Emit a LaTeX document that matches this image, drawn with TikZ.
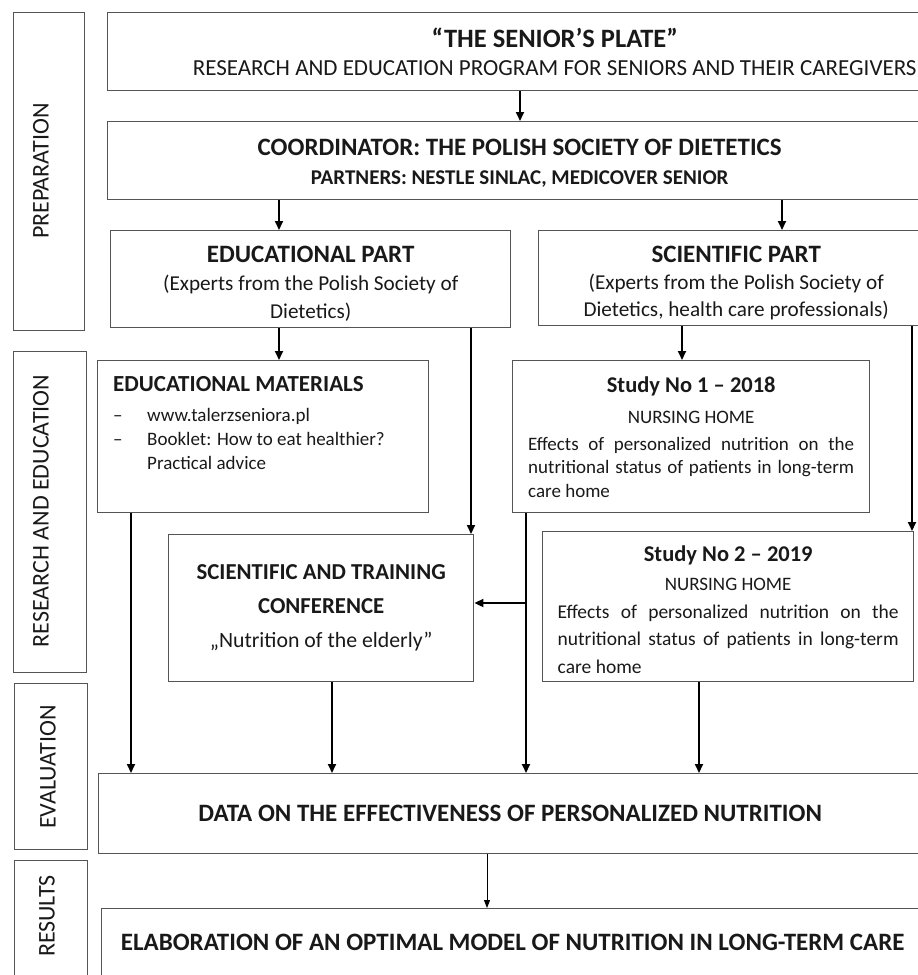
\documentclass[tikz,border=0pt]{standalone}
\usepackage{fontspec}
\setmainfont{Carlito}
\usetikzlibrary{arrows.meta}
\definecolor{PlateLine}{RGB}{85,85,85}
\definecolor{PlateText}{RGB}{25,25,25}
\newcommand{\plfs}[2]{\fontsize{#1}{#2}\selectfont}

\begin{document}
\begin{tikzpicture}[x=1pt,y=-1pt,
  box/.style={draw=PlateLine,line width=1.4pt,rectangle,inner sep=0pt,anchor=north west,align=center,text=PlateText},
  lane/.style={draw=PlateLine,line width=1.4pt,rectangle,inner sep=0pt,anchor=north west},
  lbl/.style={rotate=90,inner sep=0pt,text=PlateText,font=\plfs{24}{24}},
  arr/.style={draw=black,line width=1.8pt,-{Triangle[length=9pt,width=8pt]}},
  thinarr/.style={draw=black,line width=0.9pt,-{Triangle[length=8pt,width=6pt]}}]
\useasboundingbox (0,0) rectangle (918,975);
% phases on the left
\node[lane,minimum width=71,minimum height=318] (prep) at (13,12) {};
\node[lane,minimum width=73,minimum height=321] (resed) at (13,351) {};
\node[lane,minimum width=73,minimum height=166] (evalu) at (14,683) {};
\node[lane,minimum width=73,minimum height=130] (reslt) at (14,860) {};
\node[lbl] (prepT) at (41,171) {PREPARATION};
\node[lbl] (resedT) at (41,511) {RESEARCH AND EDUCATION};
\node[lbl] (evaluT) at (48,767) {EVALUATION};
\node[lbl] (resltT) at (47,916) {RESULTS};
% programme and coordinator (cut by the right edge)
\node[box,minimum width=894,minimum height=78,font=\plfs{23}{28}] (plate) at (107,12)
  {{\bfseries\plfs{26.5}{28}“THE SENIOR’S PLATE”}\\RESEARCH AND EDUCATION PROGRAM FOR SENIORS AND THEIR CAREGIVERS};
\node[box,minimum width=824,minimum height=78,text width=700,align=flush center,font=\bfseries\plfs{21}{29}] (coord) at (107,121)
  {{\plfs{25}{29}COORDINATOR: THE POLISH SOCIETY OF DIETETICS\par}
   PARTNERS: NESTLE SINLAC, MEDICOVER SENIOR\par\vspace*{-6pt}};
% the two parts
\node[box,minimum width=400,minimum height=97,text width=380,align=flush center,font=\plfs{21.2}{28}] (edu) at (110,230)
  {{\bfseries\plfs{25}{28}EDUCATIONAL PART\par}
   (Experts from the Polish Society of\\Dietetics)\par\vspace*{-10pt}};
\node[box,minimum width=395,minimum height=95,text width=380,align=flush center,font=\plfs{21.2}{27}] (sci) at (538,230)
  {{\bfseries\plfs{25}{27}SCIENTIFIC PART\par}
   (Experts from the Polish Society of\\Dietetics, health care professionals)\par\vspace*{-10pt}};
% research and education
\node[box,minimum width=331,minimum height=152] (mat) at (97,360) {};
\node[anchor=north west,inner sep=0pt,align=left,text=PlateText,font=\plfs{19}{24}] (matT) at (113,376)
  {{\bfseries\plfs{23}{24}EDUCATIONAL MATERIALS}\\[6pt]
   \makebox[34pt][l]{–}www.talerzseniora.pl\\
   \makebox[34pt][l]{–}Booklet: How to eat healthier?\\
   \hspace*{34pt}Practical advice};
\node[box,minimum width=357,minimum height=152,text width=326,align=justify,font=\plfs{19}{23.5}] (st1) at (512,360)
  {{\centering\bfseries\plfs{22.5}{31}Study No 1 – 2018\par}
   {\centering\plfs{19}{31}NURSING HOME\par}\vspace{3.5pt}
   Effects of personalized nutrition on the\linebreak
   nutritional status of patients in long-term\linebreak
   care home};
\node[box,minimum width=305,minimum height=147,font=\bfseries\plfs{22.8}{34}] (conf) at (168,534)
  {SCIENTIFIC AND TRAINING\\CONFERENCE\\{\mdseries\plfs{21.8}{34}„Nutrition of the elderly”}};
\node[box,minimum width=371,minimum height=150,text width=341,align=justify,font=\plfs{19.5}{27.5}] (st2) at (542,531)
  {{\centering\bfseries\plfs{22.5}{29}Study No 2 – 2019\par}
   {\centering\plfs{19}{29}NURSING HOME\par}
   Effects of personalized nutrition on the\linebreak
   nutritional status of patients in long-term\linebreak
   care home\vspace*{-6pt}};
% evaluation and results (cut by the right edge)
\node[box,minimum width=823,minimum height=80,font=\bfseries\plfs{25}{26}] (data) at (98,773)
  {DATA ON THE EFFECTIVENESS OF PERSONALIZED NUTRITION};
\node[box,minimum width=822,minimum height=68,font=\bfseries\plfs{25}{26}] (elab) at (101,908)
  {ELABORATION OF AN OPTIMAL MODEL OF NUTRITION IN LONG-TERM CARE};
% columns of the arrows
\coordinate (xp) at (520,0);
\coordinate (xe) at (279,0);
\coordinate (xs) at (782,0);
\coordinate (xc) at (471,0);
\coordinate (xn) at (682,0);
\coordinate (xr) at (912,0);
\coordinate (xm) at (131,0);
\coordinate (xk) at (332,0);
\coordinate (xv) at (526,0);
\coordinate (xt) at (699,0);
\coordinate (xd) at (487,0);
\coordinate (branch) at (526,603);
\draw[arr] (plate.south -| xp) -- (coord.north -| xp);
\draw[arr] (coord.south -| xe) -- (edu.north -| xe);
\draw[arr] (coord.south -| xs) -- (sci.north -| xs);
\draw[arr] (edu.south -| xe) -- (mat.north -| xe);
\draw[arr] (edu.south -| xc) -- (conf.north -| xc);
\draw[arr] (sci.south -| xn) -- (st1.north -| xn);
\draw[arr] (sci.south -| xr) -- (st2.north -| xr);
\draw[arr] (mat.south -| xm) -- (data.north -| xm);
\draw[arr] (conf.south -| xk) -- (data.north -| xk);
\draw[arr] (st1.south -| xv) -- (data.north -| xv);
\draw[arr] (branch) -- (branch -| conf.east);
\draw[arr] (st2.south -| xt) -- (data.north -| xt);
\draw[thinarr] (data.south -| xd) -- (elab.north -| xd);
\end{tikzpicture}
\end{document}
